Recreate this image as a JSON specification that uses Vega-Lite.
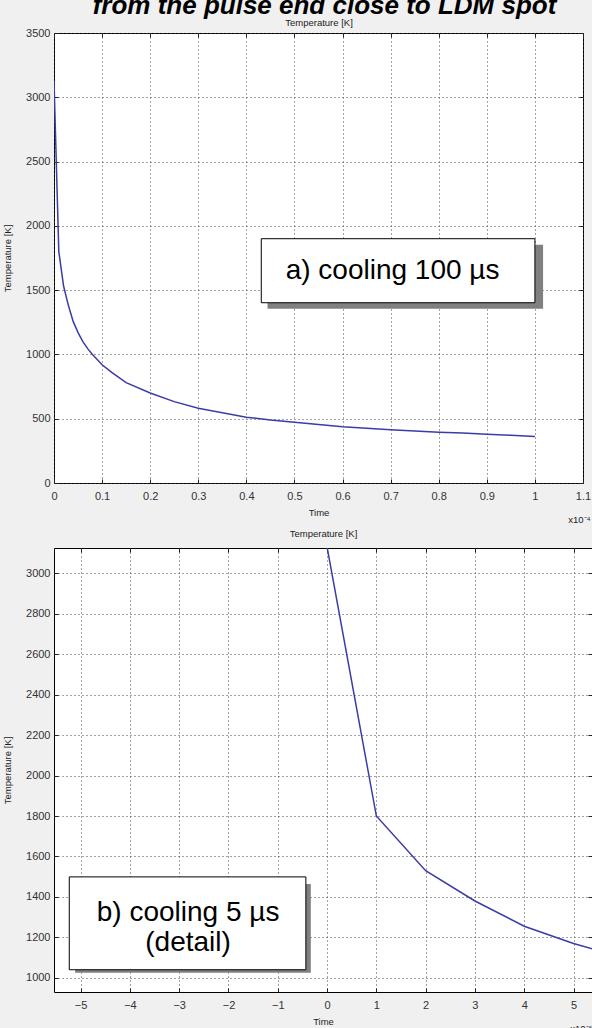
{
  "$schema": "https://vega.github.io/schema/vega-lite/v6.json",
  "background": "#f0f0f0",
  "padding": {"top": -7, "left": 2, "right": 0, "bottom": 0},
  "title": {
    "text": "from the pulse end close to LDM spot",
    "font": "Liberation Sans",
    "fontSize": 26,
    "fontWeight": "bold",
    "fontStyle": "italic",
    "color": "#000000",
    "anchor": "middle",
    "baseline": "top",
    "offset": -2,
    "dx": 27
  },
  "datasets": {
    "cooling": [
      {"t_us": 0, "T_K": 3130},
      {"t_us": 1, "T_K": 1800},
      {"t_us": 2, "T_K": 1530},
      {"t_us": 3, "T_K": 1380},
      {"t_us": 4, "T_K": 1255},
      {"t_us": 5, "T_K": 1170},
      {"t_us": 6, "T_K": 1100},
      {"t_us": 7, "T_K": 1045},
      {"t_us": 8, "T_K": 1000},
      {"t_us": 10, "T_K": 920},
      {"t_us": 12, "T_K": 860},
      {"t_us": 15, "T_K": 780},
      {"t_us": 20, "T_K": 700},
      {"t_us": 25, "T_K": 633},
      {"t_us": 30, "T_K": 581},
      {"t_us": 35, "T_K": 547},
      {"t_us": 40, "T_K": 512},
      {"t_us": 45, "T_K": 490},
      {"t_us": 50, "T_K": 473},
      {"t_us": 55, "T_K": 455},
      {"t_us": 60, "T_K": 438},
      {"t_us": 65, "T_K": 426},
      {"t_us": 70, "T_K": 415},
      {"t_us": 75, "T_K": 405},
      {"t_us": 80, "T_K": 395},
      {"t_us": 85, "T_K": 388},
      {"t_us": 90, "T_K": 380},
      {"t_us": 95, "T_K": 372},
      {"t_us": 100, "T_K": 362}
    ],
    "one": [{}]
  },
  "config": {
    "view": {"fill": "white", "stroke": "#000000", "strokeWidth": 1},
    "axis": {
      "labelFont": "Liberation Sans",
      "labelFontSize": 11,
      "labelColor": "#333333",
      "titleFont": "Liberation Sans",
      "titleFontSize": 9.5,
      "titleFontWeight": "normal",
      "titleColor": "#222222",
      "gridColor": "#444444",
      "gridDash": [1, 3],
      "gridOpacity": 1,
      "tickColor": "#222222",
      "tickSize": -4,
      "domain": false,
      "labelPadding": 7,
      "titlePadding": 4,
      "format": "d"
    },
    "axisX": {"labelPadding": 11, "titlePadding": 6},
    "axisY": {"labelPadding": 8},
    "title": {"font": "Liberation Sans", "fontSize": 9.5, "fontWeight": "normal", "color": "#222222"}
  },
  "spacing": 3,
  "vconcat": [
    {
      "width": 529,
      "height": 450,
      "title": {"text": "x10⁻⁴", "orient": "bottom", "anchor": "end", "offset": -2},
      "data": {"name": "cooling"},
      "resolve": {"axis": {"x": "independent", "y": "independent"}},
      "layer": [
        {
          "mark": {"type": "line", "color": "#3c3ca8", "strokeWidth": 1.5, "clip": true},
          "encoding": {
            "x": {
              "field": "t_us", "type": "quantitative",
              "scale": {"domain": [0, 110], "nice": false, "zero": false},
              "axis": {"values": [0, 10, 20, 30, 40, 50, 60, 70, 80, 90, 100, 110], "labelExpr": "datum.value / 100", "title": "Time", "grid": true, "labelFlush": false}
            },
            "y": {
              "field": "T_K", "type": "quantitative",
              "scale": {"domain": [0, 3500], "nice": false},
              "axis": {"values": [0, 500, 1000, 1500, 2000, 2500, 3000, 3500], "title": "Temperature [K]", "grid": true, "titlePadding": 13}
            }
          }
        },
        {
          "mark": {"type": "point", "opacity": 0},
          "encoding": {
            "x": {"field": "t_us", "type": "quantitative", "axis": {"orient": "top", "values": [0, 10, 20, 30, 40, 50, 60, 70, 80, 90, 100, 110], "labels": false, "grid": false, "title": "Temperature [K]", "titlePadding": 5}},
            "y": {"field": "T_K", "type": "quantitative", "axis": {"orient": "right", "values": [0, 500, 1000, 1500, 2000, 2500, 3000, 3500], "labels": false, "grid": false, "title": null}}
          }
        },
        {
          "data": {"name": "one"},
          "mark": {"type": "rect", "fill": "#808080"},
          "encoding": {
            "x": {"datum": 44.4, "type": "quantitative", "axis": null},
            "x2": {"datum": 101.7},
            "y": {"datum": 1355, "type": "quantitative", "axis": null},
            "y2": {"datum": 1853}
          }
        },
        {
          "data": {"name": "one"},
          "mark": {"type": "rect", "fill": "white", "stroke": "#000000", "strokeWidth": 1},
          "encoding": {
            "x": {"datum": 43.1, "type": "quantitative", "axis": null},
            "x2": {"datum": 100},
            "y": {"datum": 1402, "type": "quantitative", "axis": null},
            "y2": {"datum": 1900}
          }
        },
        {
          "data": {"name": "one"},
          "mark": {"type": "text", "text": "a) cooling 100 µs", "font": "Liberation Sans", "fontSize": 28, "fill": "#000000", "align": "center", "baseline": "middle"},
          "encoding": {
            "x": {"datum": 70.4, "type": "quantitative", "axis": null},
            "y": {"datum": 1651, "type": "quantitative", "axis": null}
          }
        }
      ]
    },
    {
      "width": 538,
      "height": 444,
      "title": {"text": "x10⁻⁶", "orient": "bottom", "anchor": "end", "offset": -2},
      "data": {"name": "cooling"},
      "resolve": {"axis": {"x": "independent", "y": "independent"}},
      "layer": [
        {
          "mark": {"type": "line", "color": "#3c3ca8", "strokeWidth": 1.5, "clip": true},
          "encoding": {
            "x": {
              "field": "t_us", "type": "quantitative",
              "scale": {"domain": [-5.54, 5.375], "nice": false, "zero": false},
              "axis": {"values": [-5, -4, -3, -2, -1, 0, 1, 2, 3, 4, 5], "title": "Time", "grid": true}
            },
            "y": {
              "field": "T_K", "type": "quantitative",
              "scale": {"domain": [930, 3125], "nice": false, "zero": false},
              "axis": {"values": [1000, 1200, 1400, 1600, 1800, 2000, 2200, 2400, 2600, 2800, 3000], "title": "Temperature [K]", "grid": true, "titlePadding": 13}
            }
          }
        },
        {
          "mark": {"type": "point", "opacity": 0, "clip": true},
          "encoding": {
            "x": {"field": "t_us", "type": "quantitative", "axis": {"orient": "top", "values": [-5, -4, -3, -2, -1, 0, 1, 2, 3, 4, 5], "labels": false, "grid": false, "title": "Temperature [K]", "titlePadding": 9}},
            "y": {"field": "T_K", "type": "quantitative", "axis": {"orient": "right", "values": [1000, 1200, 1400, 1600, 1800, 2000, 2200, 2400, 2600, 2800, 3000], "labels": false, "grid": false, "title": null}}
          }
        },
        {
          "data": {"name": "one"},
          "mark": {"type": "rect", "fill": "#808080"},
          "encoding": {
            "x": {"datum": -5.11, "type": "quantitative", "axis": null},
            "x2": {"datum": -0.33},
            "y": {"datum": 1025, "type": "quantitative", "axis": null},
            "y2": {"datum": 1464}
          }
        },
        {
          "data": {"name": "one"},
          "mark": {"type": "rect", "fill": "white", "stroke": "#000000", "strokeWidth": 1},
          "encoding": {
            "x": {"datum": -5.23, "type": "quantitative", "axis": null},
            "x2": {"datum": -0.43},
            "y": {"datum": 1040, "type": "quantitative", "axis": null},
            "y2": {"datum": 1499}
          }
        },
        {
          "data": {"name": "one"},
          "mark": {"type": "text", "text": ["b) cooling 5 µs", "(detail)"], "lineHeight": 30, "font": "Liberation Sans", "fontSize": 28, "fill": "#000000", "align": "center", "baseline": "middle"},
          "encoding": {
            "x": {"datum": -2.82, "type": "quantitative", "axis": null},
            "y": {"datum": 1321, "type": "quantitative", "axis": null}
          }
        }
      ]
    }
  ]
}
